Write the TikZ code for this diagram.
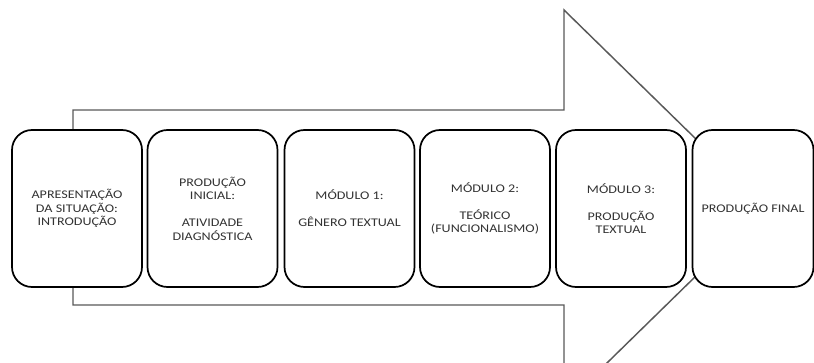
\documentclass[tikz,border=0pt]{standalone}
\usepackage{fontspec}
\setmainfont{Carlito}[FakeStretch=1.2]
\usetikzlibrary{positioning}
\tikzset{x=0.75pt, y=-0.75pt}
\tikzset{etapa/.style={draw=black, fill=white, line width=1.3pt, rounded corners=15pt,
	minimum width=97.5pt, minimum height=117.75pt, align=center, inner sep=1pt,
	text=black!80, font=\fontsize{8.8}{10.1}\selectfont}}
\tikzset{seta/.style={draw=black!65, line width=1.1pt, fill=white}}

\begin{document}
\begin{tikzpicture}
	\useasboundingbox (0,0) rectangle (814,363);
	\clip (0,0) rectangle (814,363);

	% seta de fundo
	\draw[seta] (73,110) -- (564,110) -- (564,10) -- (766,207.5)
		-- (564,405) -- (564,305) -- (73,305) -- cycle;

	\node[etapa] (apres) at (77,208.5) {APRESENTAÇÃO\\DA SITUAÇÃO:\\INTRODUÇÃO};
	\node[etapa] (inicial) at (212.5,208.5) {PRODUÇÃO\\INICIAL:\\[\baselineskip]ATIVIDADE\\DIAGNÓSTICA};
	\node[etapa] (mod1) at (349.5,208.5) {MÓDULO 1:\\[\baselineskip]GÊNERO TEXTUAL};
	\node[etapa] (mod2) at (485,208.5) {MÓDULO 2:\\[\baselineskip]TEÓRICO\\(FUNCIONALISMO)};
	\node[etapa] (mod3) at (621,208.5) {MÓDULO 3:\\[\baselineskip]PRODUÇÃO\\TEXTUAL};
	\node[etapa, minimum width=90.75pt] (final) at (753,208.5) {PRODUÇÃO FINAL};

\end{tikzpicture}
\end{document}
